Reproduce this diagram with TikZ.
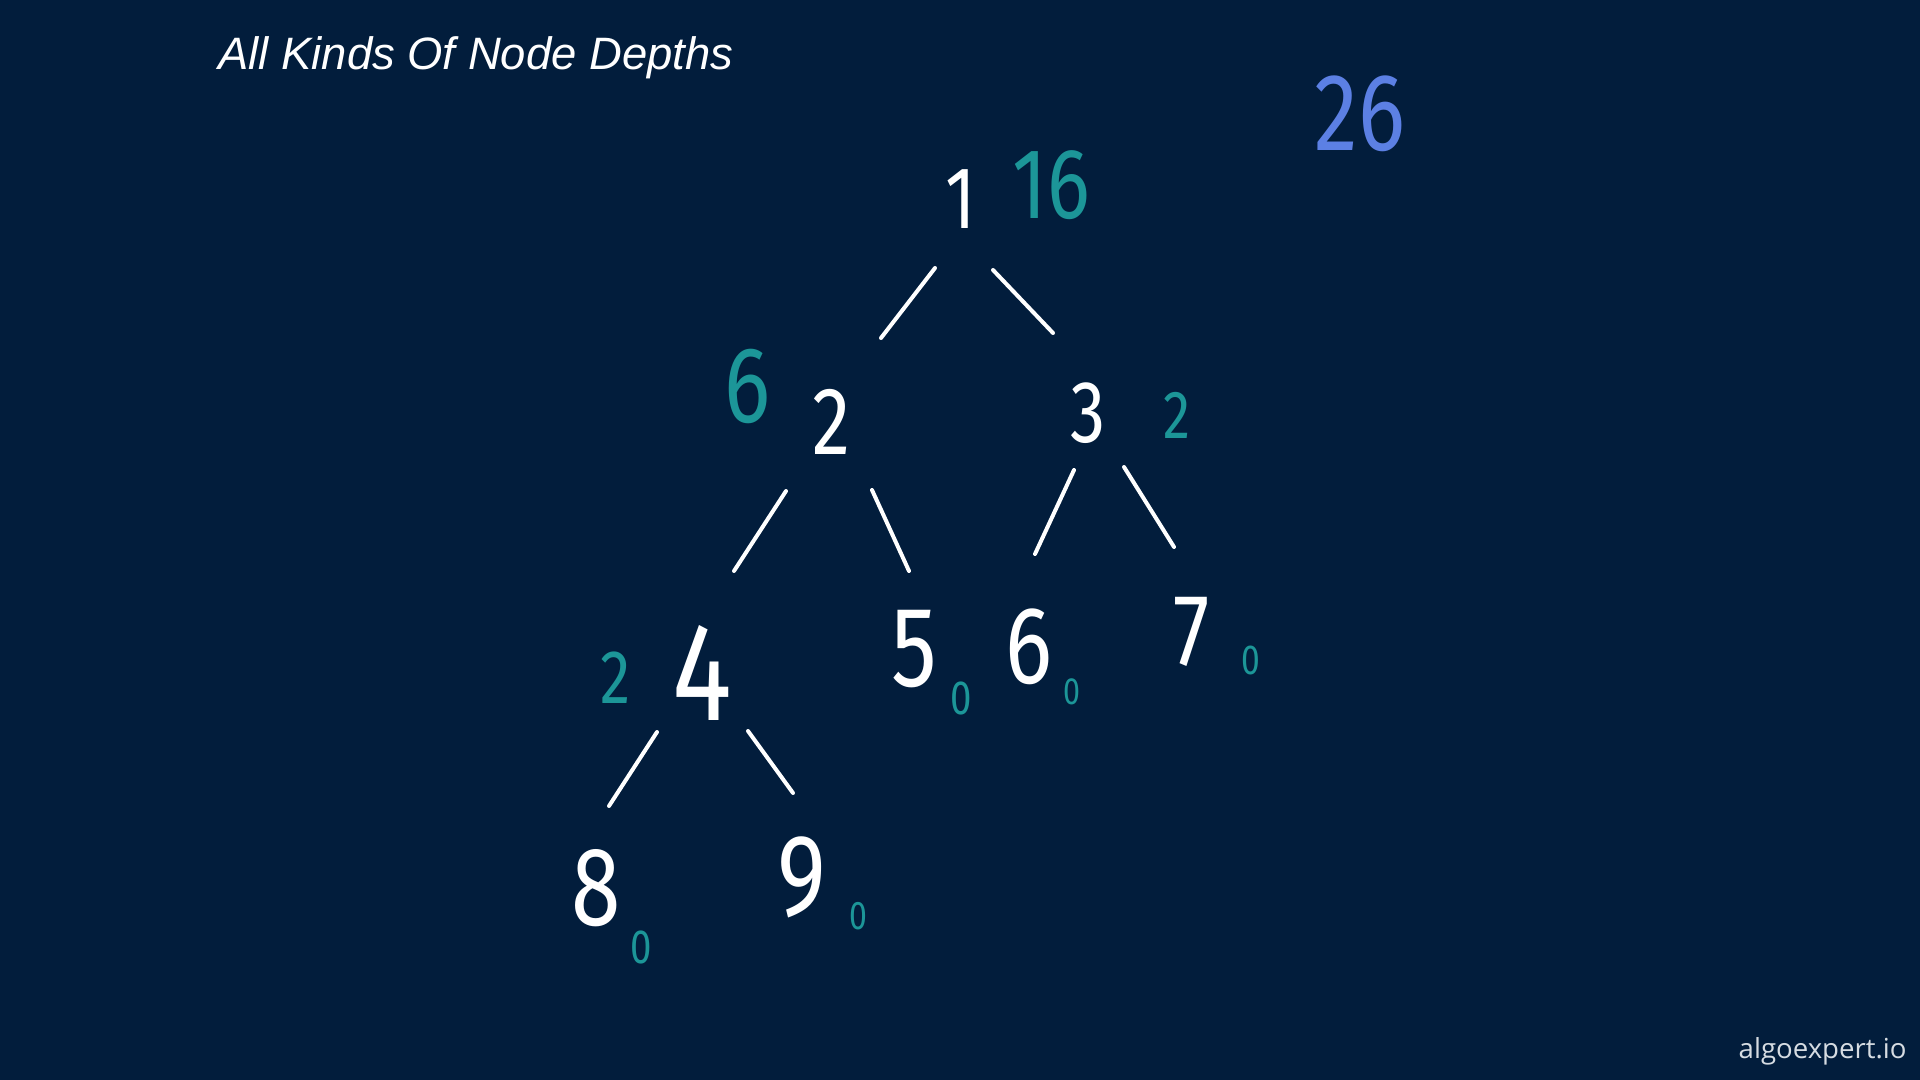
\documentclass[tikz,border=0pt]{standalone}
\usepackage{fontspec}
\setmainfont{Liberation Sans}
\newfontfamily\hand[FakeStretch=0.8]{Fira Sans}
\newfontfamily\footfont{Open Sans}
\usetikzlibrary{calc}
\definecolor{bgnavy}{RGB}{2,29,60}
\definecolor{tealink}{RGB}{28,150,152}
\definecolor{blueink}{RGB}{92,128,228}
\definecolor{footgrey}{RGB}{214,220,226}
\tikzset{
  wdig/.style={inner sep=0pt, text=white, font=\hand\fontsize{#1}{#1}\selectfont},
  tdig/.style={inner sep=0pt, text=tealink, font=\hand\fontsize{#1}{#1}\selectfont},
  bdig/.style={inner sep=0pt, text=blueink, font=\hand\fontsize{#1}{#1}\selectfont},
  edge/.style={draw=white, line width=2pt, line cap=round},
}
\begin{document}
\begin{tikzpicture}[x=0.5pt, y=-0.5pt]
\fill[bgnavy] (0,0) rectangle (1920,1080);
\useasboundingbox (0,0) rectangle (1920,1080);
% title and footer
\node[anchor=base west, inner sep=0pt, text=white, font=\itshape\fontsize{22.7}{22.7}\selectfont] (title) at (218,70) {All Kinds Of Node Depths};
\node[anchor=base east, inner sep=0pt, text=footgrey, font=\footfont\fontsize{13.8}{13.8}\selectfont] (foot) at (1907,1058) {algoexpert.io};
% tree nodes
\node[wdig=44] (n1) at (961,199) {1};
\node[wdig=48] (n2) at (831,422) {2};
\node[wdig=44] (n3) at (1088,413) {3};
\node[wdig=70] (n4) at (702,673) {4};
\node[wdig=57] (n5) at (914,649) {5};
\node[wdig=55] (n6) at (1029,647) {6};
\node[wdig=51] (n7) at (1192,632) {7};
\node[wdig=56] (n8) at (596,888) {8};
\node[wdig=58] (n9) at (802,877) {9};
% depth sums
\node[tdig=50] (d1) at (1051,185) {16};
\node[tdig=54] (d2) at (748,386) {6};
\node[tdig=34] (d3) at (1177,415) {2};
\node[tdig=38] (d4) at (616,678) {2};
\node[tdig=24] (d5) at (961,698) {0};
\node[tdig=19] (d6) at (1072,692) {0};
\node[tdig=21] (d7) at (1251,660) {0};
\node[tdig=24] (d8) at (641,947) {0};
\node[tdig=20] (d9) at (858,916) {0};
% total
\node[bdig=55] (total) at (1360,114) {26};
% edges
\draw[edge] ($(n1)+(-26,69)$) -- ($(n2)+(50,-84)$);
\draw[edge] ($(n1)+(32,71)$) -- ($(n3)+(-35,-80)$);
\draw[edge] ($(n2)+(-45,69)$) -- ($(n4)+(32,-102)$);
\draw[edge] ($(n2)+(41,68)$) -- ($(n5)+(-5,-78)$);
\draw[edge] ($(n3)+(-14,57)$) -- ($(n6)+(6,-93)$);
\draw[edge] ($(n3)+(36,54)$) -- ($(n7)+(-18,-85)$);
\draw[edge] ($(n4)+(-45,59)$) -- ($(n8)+(13,-82)$);
\draw[edge] ($(n4)+(46,58)$) -- ($(n9)+(-9,-84)$);
\end{tikzpicture}
\end{document}
